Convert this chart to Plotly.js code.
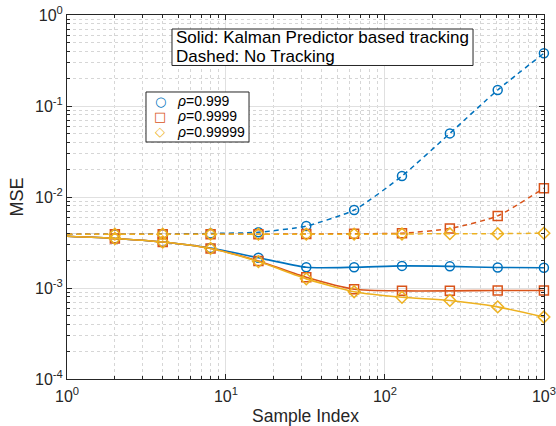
<!DOCTYPE html>
<html><head><meta charset="utf-8">
<script src="https://cdn.plot.ly/plotly-3.0.1.min.js"></script>
<style>html,body{margin:0;padding:0;background:#fff}#chart{width:556px;height:426px}</style>
</head><body><div id="chart"></div>
<script>
// Sample indices (first point x=1 has no marker)
const sampleIdx = [1, 2, 4, 8, 16, 32, 64, 128, 256, 512, 1000];
const seriesNames = ['ρ=0.999', 'ρ=0.9999', 'ρ=0.99999'];
// Solid: Kalman Predictor based tracking
const kalman999   = [3.7e-3, 3.5e-3, 3.2e-3, 2.75e-3, 2.15e-3, 1.69e-3, 1.69e-3, 1.75e-3, 1.73e-3, 1.68e-3, 1.67e-3];
const kalman9999  = [3.7e-3, 3.5e-3, 3.2e-3, 2.72e-3, 1.98e-3, 1.31e-3, 9.7e-4, 9.3e-4, 9.3e-4, 9.4e-4, 9.4e-4];
const kalman99999 = [3.7e-3, 3.5e-3, 3.2e-3, 2.72e-3, 1.95e-3, 1.26e-3, 9.1e-4, 7.9e-4, 7.3e-4, 6.2e-4, 4.8e-4];
// Dashed: No Tracking
const noTrack999   = [3.9e-3, 3.9e-3, 3.92e-3, 3.97e-3, 4.1e-3, 4.8e-3, 7.2e-3, 1.7e-2, 5.0e-2, 1.5e-1, 3.8e-1];
const noTrack9999  = [3.9e-3, 3.9e-3, 3.9e-3, 3.9e-3, 3.9e-3, 3.92e-3, 3.95e-3, 4.0e-3, 4.5e-3, 6.2e-3, 1.25e-2];
const noTrack99999 = [3.9e-3, 3.9e-3, 3.9e-3, 3.9e-3, 3.9e-3, 3.9e-3, 3.9e-3, 3.92e-3, 3.95e-3, 3.95e-3, 4.0e-3];
const xTickVals = [1, 10, 100, 1000];
const xTickText = ['10<sup>0</sup>', '10<sup>1</sup>', '10<sup>2</sup>', '10<sup>3</sup>'];
const yTickVals = [1e-4, 1e-3, 1e-2, 1e-1, 1];
const yTickText = ['10<sup>-4</sup>', '10<sup>-3</sup>', '10<sup>-2</sup>', '10<sup>-1</sup>', '10<sup>0</sup>'];
const boxLines = ['Solid: Kalman Predictor based tracking', 'Dashed: No Tracking'];

const colors = ['#0072BD', '#D95319', '#EDB120'];
const symbols = ['circle-open', 'square-open', 'diamond-open'];
const glyphs = ['○', '□', '◇'];
const kalman = [kalman999, kalman9999, kalman99999];
const noTrack = [noTrack999, noTrack9999, noTrack99999];
const FONT = 'Liberation Sans, Arial, Helvetica, sans-serif';

const traces = [];
for (let i = 0; i < 3; i++) {
  traces.push({x: sampleIdx, y: noTrack[i], mode: 'lines', type: 'scatter',
    line: {color: colors[i], width: 1.5, dash: '5px,4px', shape: 'spline', smoothing: 0.6}});
  traces.push({x: sampleIdx.slice(1), y: noTrack[i].slice(1), mode: 'markers', type: 'scatter', cliponaxis: false,
    marker: {symbol: symbols[i], size: 9, color: colors[i], line: {width: 1.5, color: colors[i]}}});
  traces.push({x: sampleIdx, y: kalman[i], mode: 'lines', type: 'scatter',
    line: {color: colors[i], width: 1.6, shape: 'spline', smoothing: 0.6}});
  traces.push({x: sampleIdx.slice(1), y: kalman[i].slice(1), mode: 'markers', type: 'scatter', cliponaxis: false,
    marker: {symbol: symbols[i], size: 9, color: colors[i], line: {width: 1.5, color: colors[i]}}});
}

const axisCommon = {
  type: 'log', showline: true, linecolor: '#262626', linewidth: 1, mirror: 'ticks',
  ticks: 'inside', ticklen: 5, tickcolor: '#262626',
  showgrid: true, gridcolor: '#e0e0e0', gridwidth: 1, zeroline: false,
  tickfont: {family: FONT, size: 16, color: '#262626'},
  minor: {dtick: 'D1', ticks: 'inside', ticklen: 3, tickcolor: '#262626', showgrid: true, gridcolor: '#d6d6d6', griddash: 'dot', gridwidth: 1}
};

const annotations = [];
const boxYs = [0.9374, 0.8852];
boxLines.forEach((t, k) => annotations.push({xref: 'paper', yref: 'paper', x: 0.2264, y: boxYs[k],
  xanchor: 'left', yanchor: 'middle', text: t, showarrow: false, borderpad: 0, font: {family: FONT, size: 17, color: '#000'}}));
const legYs = [0.7624, 0.7212, 0.6799];
seriesNames.forEach((n, i) => {
  const parts = n.split('=');
  annotations.push({xref: 'paper', yref: 'paper', x: 0.195, y: legYs[i], xanchor: 'center', yanchor: 'middle',
    text: '<b>' + glyphs[i] + '</b>', showarrow: false, font: {family: 'DejaVu Sans', size: 13, color: colors[i]}});
  annotations.push({xref: 'paper', yref: 'paper', x: 0.2264, y: legYs[i], xanchor: 'left', yanchor: 'middle',
    text: '<i>' + parts[0] + '</i>=' + parts[1], showarrow: false, font: {family: FONT, size: 14, color: '#000'}});
});

const layout = {
  width: 556, height: 426,
  margin: {l: 67, r: 12, t: 15, b: 47},
  paper_bgcolor: '#fff', plot_bgcolor: '#fff',
  font: {family: FONT, color: '#262626'},
  showlegend: false,
  xaxis: Object.assign({}, axisCommon, {range: [0, 3.0005], tickvals: xTickVals, ticktext: xTickText, ticklabelstandoff: 3,
    title: {text: 'Sample Index', font: {family: FONT, size: 17.5, color: '#262626'}, standoff: 5}}),
  yaxis: Object.assign({}, axisCommon, {range: [-4, 0], tickvals: yTickVals, ticktext: yTickText,
    title: {text: 'MSE', font: {family: FONT, size: 18, color: '#262626'}, standoff: 6}}),
  shapes: [
    {type: 'rect', xref: 'paper', yref: 'paper', x0: 0.2201, x1: 0.8512, y0: 0.8613, y1: 0.9615,
      line: {color: '#262626', width: 1}, fillcolor: '#fff', layer: 'above'},
    {type: 'rect', xref: 'paper', yref: 'paper', x0: 0.1656, x1: 0.3816, y0: 0.6511, y1: 0.7885,
      line: {color: '#262626', width: 1}, fillcolor: '#fff', layer: 'above'}
  ],
  annotations: annotations
};
Plotly.newPlot('chart', traces, layout, {displayModeBar: false, staticPlot: true});
</script></body></html>
